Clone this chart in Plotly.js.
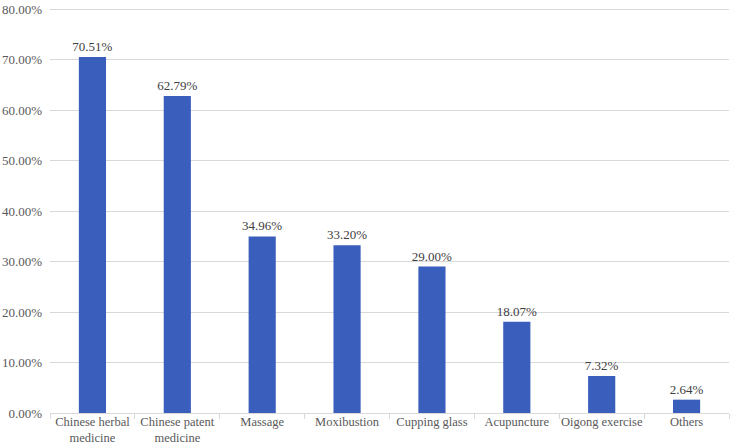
<!DOCTYPE html>
<html>
<head>
<meta charset="utf-8">
<script src="https://cdn.plot.ly/plotly-3.0.1.min.js"></script>
<style>
  html, body { margin: 0; padding: 0; background: #fff; }
  #chart { width: 730px; height: 447px; }
</style>
</head>
<body>
<div id="chart"></div>
<script>
// categories and shares (fractions)
var categories = ['Chinese herbal<br>medicine', 'Chinese patent<br>medicine', 'Massage', 'Moxibustion',
                  'Cupping glass', 'Acupuncture', 'Oigong exercise', 'Others'];
var shares = [0.7051, 0.6279, 0.3496, 0.3320, 0.2900, 0.1807, 0.0732, 0.0264];
var shareLabels = ['70.51%', '62.79%', '34.96%', '33.20%', '29.00%', '18.07%', '7.32%', '2.64%'];

var CHART = document.getElementById('chart');
var serif = 'Liberation Serif, Times New Roman, serif';

var data = [{
    x: categories,
    y: shares,
    type: 'bar',
    text: shareLabels,
    textposition: 'outside',
    constraintext: 'none',
    cliponaxis: false,
    textfont: {family: serif, size: 13, color: '#404040'},
    marker: {color: '#3a5ebb'},
    width: 0.32,
    hoverinfo: 'x+y'
}];

var layout = {
    width: 730, height: 447,
    margin: {l: 50, r: 1, t: 8, b: 34},
    paper_bgcolor: '#fff', plot_bgcolor: '#fff',
    font: {family: serif, size: 13, color: '#595959'},
    showlegend: false,
    xaxis: {
        showline: true, linecolor: '#d9d9d9', linewidth: 1,
        ticks: 'outside', tickson: 'boundaries', ticklen: 5, tickcolor: '#d9d9d9',
        showgrid: false, tickangle: 0, ticklabelstandoff: -3,
        tickfont: {family: serif, size: 12.5, color: '#595959'}
    },
    yaxis: {
        range: [0, 0.802], dtick: 0.1, tickformat: '.2%',
        showgrid: true, gridcolor: '#d9d9d9', gridwidth: 1,
        zeroline: false, showline: false, ticks: '',
        ticklabelstandoff: 7, ticklabeloverflow: 'allow',
        tickfont: {family: serif, size: 13, color: '#595959'}
    }
};

Plotly.newPlot(CHART, data, layout, {displayModeBar: false});
</script>
</body>
</html>
